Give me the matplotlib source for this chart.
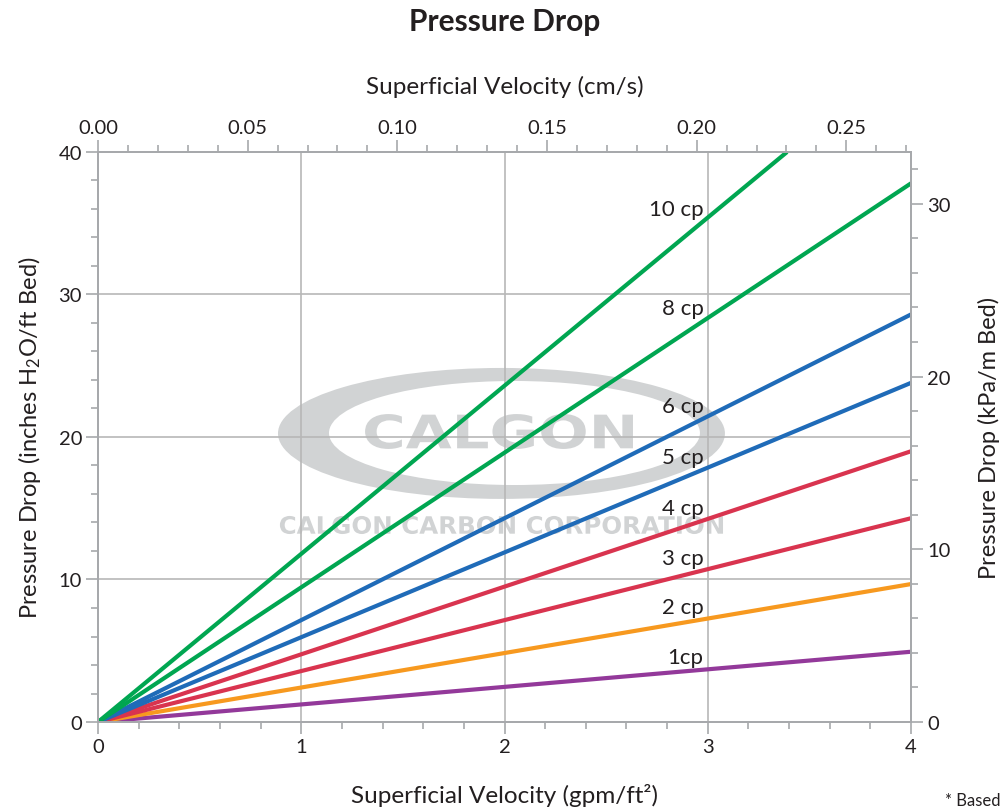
import matplotlib
matplotlib.use("Agg")
import matplotlib.pyplot as plt
from matplotlib.ticker import MultipleLocator, FormatStrFormatter
from matplotlib.patches import Ellipse, PathPatch
from matplotlib.textpath import TextPath
from matplotlib.font_manager import FontProperties
from matplotlib.transforms import Affine2D

plt.rcParams["font.family"] = ["Lato", "DejaVu Sans"]
plt.rcParams["mathtext.fontset"] = "custom"
plt.rcParams["mathtext.rm"] = "Lato"
plt.rcParams["mathtext.default"] = "regular"

# viscosity curves, straight lines from the origin
viscosity_labels = ["1cp", "2 cp", "3 cp", "4 cp", "5 cp", "6 cp", "8 cp", "10 cp"]
velocity_end = [4.0, 4.0, 4.0, 4.0, 4.0, 4.0, 4.0, 3.39]        # gpm/ft2
pressure_end = [4.93, 9.68, 14.3, 19.0, 23.8, 28.6, 37.8, 40.0]  # in H2O/ft bed
line_colors = ["#93399a", "#f7991f", "#d9344f", "#d9344f",
               "#1f6bb8", "#1f6bb8", "#00a651", "#00a651"]

CM_S_PER_GPM = 0.0679   # 1 gpm/ft2 in cm/s
KPA_PER_IN = 0.825      # 1 in H2O/ft in kPa/m (as drawn on chart)

GREY = "#a7a9ac"
TXT = "#231f20"
WM = "#d1d3d4"

fig = plt.figure(figsize=(10.03, 8.12), dpi=100)
ax = fig.add_axes([0.0977, 0.1096, 0.8106, 0.7020])
ax.set_xlim(0, 4)
ax.set_ylim(0, 40)

# watermark
ax.add_patch(Ellipse((1.985, 20.25), 2.199, 9.19, color=WM, lw=0, zorder=0.1))
ax.add_patch(Ellipse((2.049, 20.28), 1.825, 7.30, color="white", lw=0, zorder=0.2))

def fitted_text(s, x0, x1, y0, y1):
    tp = TextPath((0, 0), s, size=1, prop=FontProperties(family="DejaVu Sans", weight="bold"))
    ext = tp.get_extents()
    tr = (Affine2D().translate(-ext.x0, -ext.y0)
          .scale((x1 - x0) / ext.width, (y1 - y0) / ext.height)
          .translate(x0, y0))
    ax.add_patch(PathPatch(tr.transform_path(tp), color=WM, lw=0, zorder=0.3))

fitted_text("CALGON", 1.314, 2.632, 19.16, 21.61)
fitted_text("CALGON CARBON CORPORATION", 0.895, 3.075, 13.19, 14.46)

for lab, xe, ye, c in zip(viscosity_labels, velocity_end, pressure_end, line_colors):
    ax.plot([0, xe], [0, ye], color=c, lw=3, solid_capstyle="butt", zorder=3)
    xl = 2.98
    ax.annotate(lab, (xl, ye / xe * xl), xytext=(0, 4.5), textcoords="offset points",
                ha="right", va="baseline", fontsize=16, color=TXT, zorder=4)

ax.set_axisbelow(True)
ax.grid(True, which="major", color="#b7b7b7", lw=1.2)
ax.xaxis.set_major_locator(MultipleLocator(1))
ax.xaxis.set_minor_locator(MultipleLocator(0.2))
ax.yaxis.set_major_locator(MultipleLocator(10))
ax.yaxis.set_minor_locator(MultipleLocator(2))

# top axis, cm/s
axt = ax.twiny()
axt.set_xlim(0, 4 * CM_S_PER_GPM)
axt.xaxis.set_major_locator(MultipleLocator(0.05))
axt.xaxis.set_minor_locator(MultipleLocator(0.01))
axt.xaxis.set_major_formatter(FormatStrFormatter("%.2f"))

# right axis, kPa/m
axr = ax.twinx()
axr.set_ylim(0, 40 * KPA_PER_IN)
axr.yaxis.set_major_locator(MultipleLocator(10))
axr.yaxis.set_minor_locator(MultipleLocator(2))

for a in (ax, axt, axr):
    for sp in a.spines.values():
        sp.set_color(GREY)
        sp.set_linewidth(1.3)
    a.tick_params(which="major", direction="out", length=8.5, width=1.2,
                  color=GREY, labelsize=14.5, labelcolor=TXT, pad=3)
    a.tick_params(which="minor", direction="out", length=5, width=1.2, color=GREY)

ax.set_xlabel("Superficial Velocity (gpm/ft²)", fontsize=17.5, color=TXT, labelpad=20)
ax.set_ylabel("Pressure Drop (inches H$_2$O/ft Bed)", fontsize=17, color=TXT, labelpad=11)
axt.set_xlabel("Superficial Velocity (cm/s)", fontsize=17.5, color=TXT, labelpad=19)
axr.set_ylabel("Pressure Drop (kPa/m Bed)", fontsize=17, color=TXT, labelpad=20)

fig.text(0.503, 0.973, "Pressure Drop", ha="center", va="center",
         fontsize=21.5, fontweight="bold", color=TXT)
fig.text(0.998, 0.014, "* Based", ha="right", va="center", fontsize=12, color=TXT)

fig.savefig("out.png", dpi=100)
